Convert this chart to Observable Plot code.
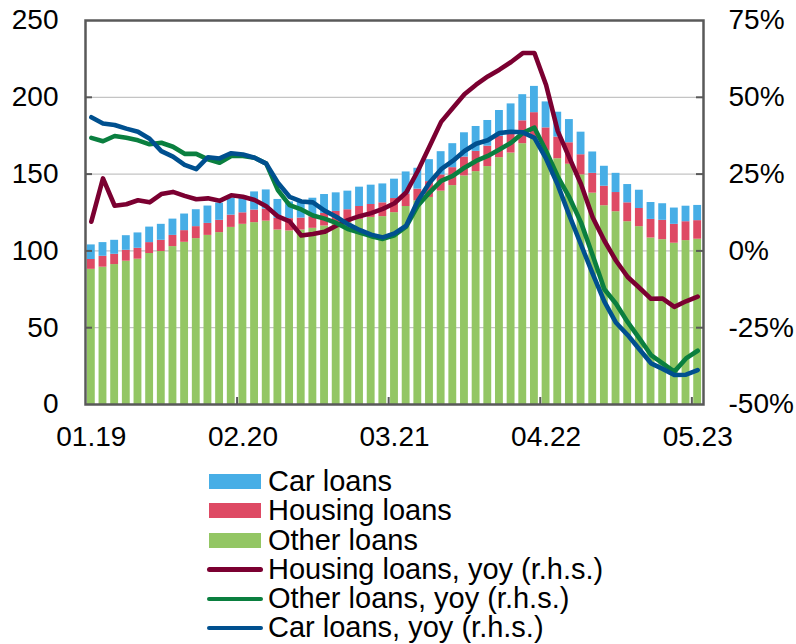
<!DOCTYPE html>
<html>
<head>
<meta charset="utf-8">
<script src="https://cdn.jsdelivr.net/npm/d3@7"></script>
<script src="https://cdn.jsdelivr.net/npm/@observablehq/plot@0.6"></script>
<style>
  html, body { margin: 0; padding: 0; background: #fff; }
  body { width: 796px; height: 644px; overflow: hidden; font-family: "Liberation Sans", Arial, sans-serif; }
  #chart svg { display: block; }
  #legend { padding-left: 206px; font-size: 29px; line-height: 29.3px; color: #000; }
  .row { display: flex; align-items: center; height: 29.3px; white-space: nowrap; }
  .sw { width: 58px; height: 29.3px; display: flex; align-items: center; justify-content: center; margin-right: 4px; }
  .box { width: 52px; height: 15px; }
  .ln { width: 56px; height: 4.5px; border-radius: 2.5px; }
</style>
</head>
<body>
<div id="chart"></div>
<div id="legend"></div>
<script>
// Tick labels on the x axis (month index -> label)
const tickIndex = [0, 13, 26, 39, 52];
const tickLabels = ["01.19", "02.20", "03.21", "04.22", "05.23"];
const leftTicks = [0, 50, 100, 150, 200, 250];
const innerTicks = [50, 100, 150, 200];

// Stock of loans (left axis), monthly 01.2019 - 05.2023
const otherLoans = [88.0, 89.4, 91.1, 93.3, 94.6, 98.3, 99.6, 102.8, 105.6, 108.0, 110.1, 111.9, 115.3, 117.3, 118.4, 119.4, 113.6, 113.0, 113.6, 114.7, 116.2, 117.5, 118.4, 120.6, 121.8, 122.3, 124.9, 128.9, 132.6, 134.8, 138.9, 142.5, 148.8, 151.6, 154.9, 160.7, 163.7, 169.8, 173.0, 165.4, 160.0, 156.4, 149.5, 137.6, 129.4, 125.5, 119.0, 115.8, 108.4, 107.3, 105.0, 106.7, 107.6];
const housingLoans = [6.4, 7.1, 6.7, 7.1, 7.1, 7.1, 7.3, 7.3, 7.6, 7.8, 7.8, 8.0, 8.0, 7.5, 8.2, 7.8, 7.6, 8.0, 7.8, 7.5, 8.2, 8.2, 8.4, 8.3, 8.4, 9.0, 9.2, 8.0, 7.6, 10.3, 10.6, 11.7, 12.3, 13.2, 13.3, 13.8, 14.3, 14.9, 17.0, 14.7, 14.1, 14.0, 13.1, 12.9, 12.7, 12.5, 12.3, 11.8, 12.1, 12.6, 12.3, 12.3, 12.1];
const carLoans = [9.5, 8.9, 9.1, 9.5, 10.0, 10.1, 10.4, 10.6, 10.8, 11.0, 11.3, 11.2, 11.0, 10.8, 11.8, 12.5, 12.3, 10.9, 10.1, 12.1, 12.3, 12.1, 12.1, 12.6, 12.6, 12.3, 12.6, 14.5, 13.6, 14.3, 15.1, 15.6, 15.8, 16.2, 16.7, 16.9, 17.7, 17.0, 17.1, 16.9, 16.2, 15.1, 14.7, 13.9, 13.0, 12.5, 11.9, 11.9, 11.0, 10.8, 10.6, 10.1, 9.9];

// Year-on-year growth, % (right axis)
const housingYoy = [9.5, 23.6, 14.7, 15.2, 16.5, 15.8, 18.5, 19.2, 17.9, 16.8, 17.1, 16.3, 18.1, 17.6, 16.6, 14.5, 11.2, 9.6, 5.0, 5.5, 6.2, 8.2, 10.0, 11.3, 12.3, 13.7, 15.5, 19.0, 26.0, 34.0, 42.0, 46.5, 51.0, 54.1, 56.8, 59.0, 61.5, 64.4, 64.4, 54.0, 39.0, 30.3, 21.7, 10.9, 3.3, -3.2, -8.5, -12.0, -15.6, -15.5, -18.2, -16.4, -14.9];
const otherYoy = [36.8, 35.7, 37.4, 36.8, 36.0, 34.7, 35.2, 33.9, 31.6, 31.6, 29.8, 28.7, 30.9, 30.9, 30.3, 28.4, 19.8, 14.9, 13.5, 11.5, 10.5, 9.1, 7.1, 6.0, 4.8, 3.9, 5.1, 7.9, 14.7, 19.0, 22.8, 24.4, 27.1, 29.3, 30.9, 33.0, 35.2, 38.4, 40.1, 32.5, 24.2, 17.4, 9.2, -1.5, -12.5, -17.2, -23.2, -28.5, -33.9, -36.6, -39.3, -35.0, -32.5];
const carYoy = [43.5, 41.5, 41.0, 39.8, 38.8, 36.5, 32.5, 30.7, 28.0, 26.6, 30.5, 30.1, 31.8, 31.4, 30.3, 28.4, 22.2, 17.6, 16.1, 15.8, 13.1, 11.1, 8.7, 6.8, 5.3, 4.4, 5.7, 8.2, 16.3, 22.2, 26.6, 29.3, 32.5, 34.9, 36.0, 38.4, 38.8, 38.6, 36.8, 30.0, 21.5, 11.5, 2.0, -7.5, -16.5, -23.4, -27.4, -32.0, -36.6, -38.4, -40.4, -40.3, -38.8];

const colors = {
  car: "#47aee6", housing: "#de4a64", other: "#93c664",
  housingYoy: "#7b0031", otherYoy: "#0a7f3f", carYoy: "#00508f"
};

// Stacked bar table built from the series
const stackOrder = [
  {key: "Other loans", values: otherLoans, color: colors.other},
  {key: "Housing loans", values: housingLoans, color: colors.housing},
  {key: "Car loans", values: carLoans, color: colors.car}
];
const bars = [];
otherLoans.forEach((_, i) => {
  let base = 0;
  for (const s of stackOrder) {
    bars.push({i, i2: i + 1, y1: base, y2: base + s.values[i], key: s.key});
    base += s.values[i];
  }
});

// percent -> left-axis units (0% <-> 100, 75% <-> 250)
const pctToLeft = p => 100 + 2 * p;

const W = 796, H = 467;
const mL = 85, mR = 93, mT = 20, mB = 63;
const plotW = W - mL - mR, plotH = H - mT - mB;
const tickColor = "#595959";
const lw = 4.6;

const chart = Plot.plot({
  width: W, height: H,
  marginLeft: mL, marginRight: mR, marginTop: mT, marginBottom: mB,
  style: {fontFamily: "Liberation Sans, Arial, sans-serif", fontSize: "28px", color: "#000", background: "#fff"},
  x: {type: "linear", domain: [0, otherLoans.length]},
  y: {domain: [0, 250]},
  color: {domain: stackOrder.map(s => s.key), range: stackOrder.map(s => s.color)},
  marks: [
    Plot.ruleY(innerTicks, {stroke: "#c4c4c4", strokeWidth: 1.3}),
    Plot.rectY(bars, {x1: "i", x2: "i2", y1: "y1", y2: "y2", fill: "key", insetLeft: 1.9, insetRight: 1.9}),
    Plot.line(housingYoy, {x: (d, i) => i + 0.5, y: d => pctToLeft(d), stroke: colors.housingYoy, strokeWidth: lw, strokeLinejoin: "round", strokeLinecap: "round"}),
    Plot.line(otherYoy, {x: (d, i) => i + 0.5, y: d => pctToLeft(d), stroke: colors.otherYoy, strokeWidth: lw, strokeLinejoin: "round", strokeLinecap: "round"}),
    Plot.line(carYoy, {x: (d, i) => i + 0.5, y: d => pctToLeft(d), stroke: colors.carYoy, strokeWidth: lw, strokeLinejoin: "round", strokeLinecap: "round"}),
    Plot.tickY(innerTicks, {y: d => d, stroke: tickColor, strokeWidth: 2, insetRight: plotW - 7}),
    Plot.tickY(innerTicks, {y: d => d, stroke: tickColor, strokeWidth: 2, insetLeft: plotW - 7}),
    Plot.tickX(tickIndex.slice(1), {x: d => d, stroke: tickColor, strokeWidth: 2, insetTop: plotH - 7}),
    Plot.frame({stroke: tickColor, strokeWidth: 2.5}),
    Plot.axisY({anchor: "left", ticks: leftTicks, tickSize: 0, tickPadding: 27, label: null, tickFormat: d => String(d)}),
    Plot.axisY({anchor: "right", ticks: leftTicks, tickSize: 0, tickPadding: 25, label: null, tickFormat: d => ((d - 100) / 2) + "%"}),
    Plot.axisX({ticks: tickIndex.map(i => i + 0.5), tickSize: 0, tickPadding: 22, label: null,
      tickFormat: d => tickLabels[tickIndex.indexOf(Math.round(d - 0.5))]})
  ]
});
document.getElementById("chart").appendChild(chart);

// Legend
const legendItems = [
  {label: "Car loans", color: colors.car, type: "box"},
  {label: "Housing loans", color: colors.housing, type: "box"},
  {label: "Other loans", color: colors.other, type: "box"},
  {label: "Housing loans, yoy (r.h.s.)", color: colors.housingYoy, type: "ln"},
  {label: "Other loans, yoy (r.h.s.)", color: colors.otherYoy, type: "ln"},
  {label: "Car loans, yoy (r.h.s.)", color: colors.carYoy, type: "ln"}
];
const legend = document.getElementById("legend");
for (const it of legendItems) {
  const row = document.createElement("div");
  row.className = "row";
  const sw = document.createElement("span");
  sw.className = "sw";
  const mark = document.createElement("span");
  mark.className = it.type;
  mark.style.background = it.color;
  sw.appendChild(mark);
  const t = document.createElement("span");
  t.textContent = it.label;
  row.appendChild(sw);
  row.appendChild(t);
  legend.appendChild(row);
}
</script>
</body>
</html>
